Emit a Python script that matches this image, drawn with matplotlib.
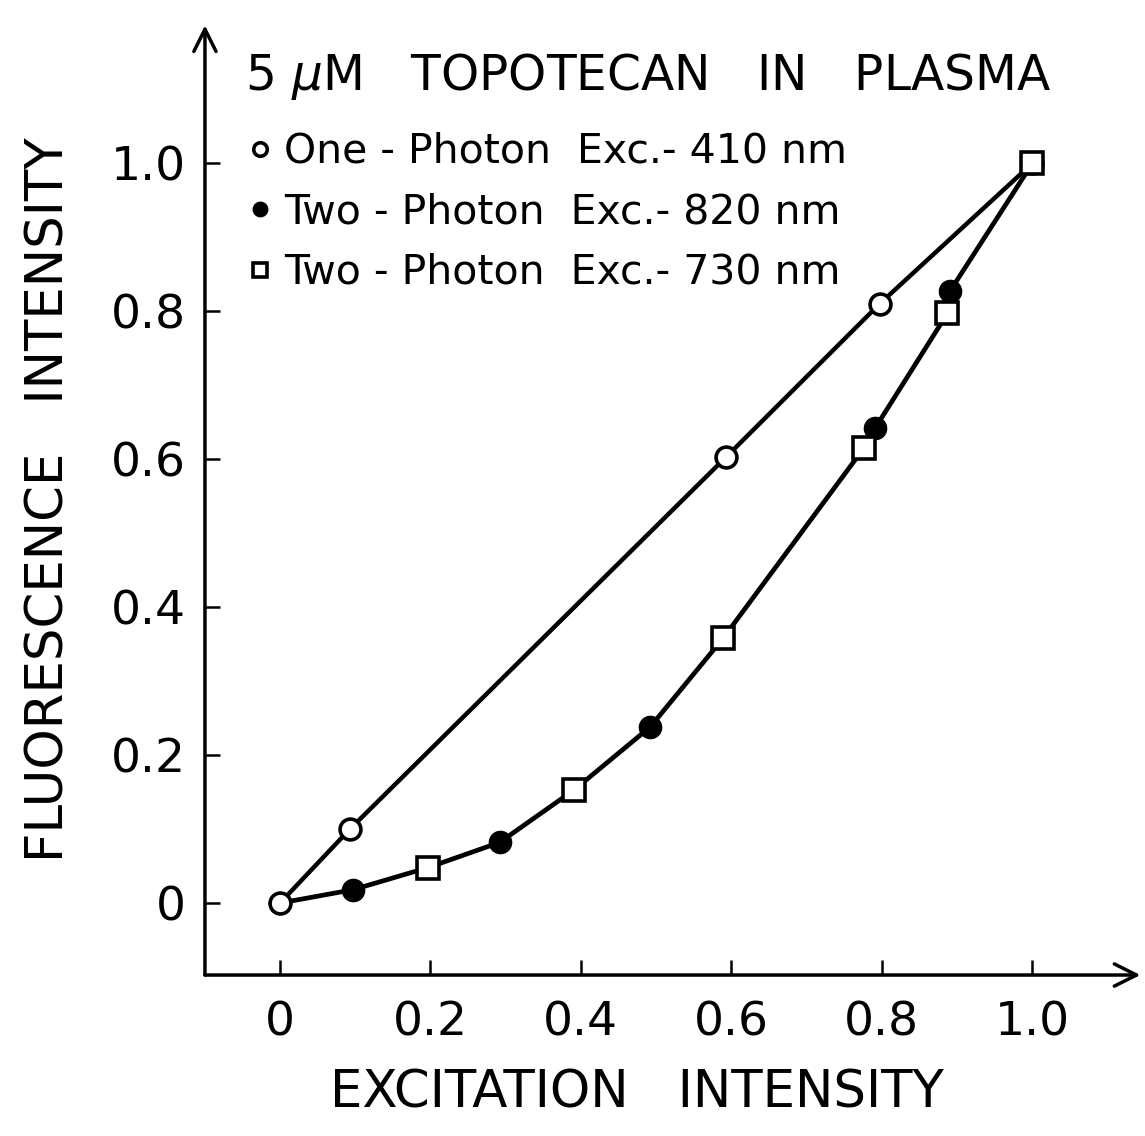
import matplotlib
matplotlib.use("Agg")
import matplotlib.pyplot as plt
import numpy as np

# data
one_x = [0.0, 0.093, 0.593, 0.797, 1.0]
one_y = [0.0, 0.100, 0.603, 0.810, 1.0]

two820_x = [0.0, 0.097, 0.292, 0.492, 0.791, 0.891]
two820_y = [0.0, 0.018, 0.082, 0.238, 0.642, 0.828]

two730_x = [0.197, 0.391, 0.589, 0.776, 0.887, 1.0]
two730_y = [0.048, 0.153, 0.358, 0.615, 0.797, 1.0]

x_ticks = [0, 0.2, 0.4, 0.6, 0.8, 1.0]
x_ticklabels = ["0", "0.2", "0.4", "0.6", "0.8", "1.0"]
y_ticks = [0, 0.2, 0.4, 0.6, 0.8, 1.0]
y_ticklabels = ["0", "0.2", "0.4", "0.6", "0.8", "1.0"]

labels = ["One - Photon  Exc.- 410 nm", "Two - Photon  Exc.- 820 nm", "Two - Photon  Exc.- 730 nm"]

fig = plt.figure(figsize=(11.45, 11.36), dpi=100)
ax = fig.add_axes([0.179, 0.1417, 0.817, 0.836])
xmin, xmax = -0.0997, 1.1436
ymin, ymax = -0.0973, 1.1865
ax.set_xlim(xmin, xmax)
ax.set_ylim(ymin, ymax)

for s in ax.spines.values():
    s.set_visible(False)

# axes with arrow heads
ax.annotate("", xy=(xmax, ymin), xytext=(xmin, ymin),
            arrowprops=dict(arrowstyle="->", lw=2.5, mutation_scale=40, shrinkA=0, shrinkB=0),
            annotation_clip=False)
ax.annotate("", xy=(xmin, ymax), xytext=(xmin, ymin),
            arrowprops=dict(arrowstyle="->", lw=2.5, mutation_scale=40, shrinkA=0, shrinkB=0),
            annotation_clip=False)

ax.set_xticks(x_ticks)
ax.set_xticklabels(x_ticklabels)
ax.set_yticks(y_ticks)
ax.set_yticklabels(y_ticklabels)
ax.tick_params(direction="in", length=11, width=1.8, labelsize=34, pad=18)
ax.tick_params(axis="y", pad=14)

# one-photon curve
ax.plot(one_x, one_y, "-", color="black", lw=3.2, zorder=2)
ax.plot(one_x, one_y, "o", ms=15, mfc="white", mec="black", mew=2.6, zorder=4, label=labels[0])

# two-photon curve through both data sets
comb_x = np.array(two820_x + two730_x)
comb_y = np.array(two820_y + two730_y)
order = np.argsort(comb_x)
ax.plot(comb_x[order], comb_y[order], "-", color="black", lw=3.4, zorder=2)
ax.plot(two820_x, two820_y, "o", ms=16, mfc="black", mec="black", zorder=3, label=labels[1])
ax.plot(two730_x, two730_y, "s", ms=16, mfc="white", mec="black", mew=2.6, zorder=4, label=labels[2])

ax.text(0.043, 0.946, r"5 $\mu$M   TOPOTECAN   IN   PLASMA", transform=ax.transAxes,
        fontsize=35, ha="left", va="center")

leg = ax.legend(loc="upper left", bbox_to_anchor=(0.028, 0.905), frameon=False,
                fontsize=29.5, markerscale=0.65, handlelength=0.6, handletextpad=0.3,
                labelspacing=0.5, borderaxespad=0)

ax.set_xlabel("EXCITATION   INTENSITY", fontsize=37)
ax.xaxis.set_label_coords(0.462, -0.098)
ax.set_ylabel("FLUORESCENCE   INTENSITY", fontsize=37, labelpad=26)

fig.savefig("out.png", dpi=100)
